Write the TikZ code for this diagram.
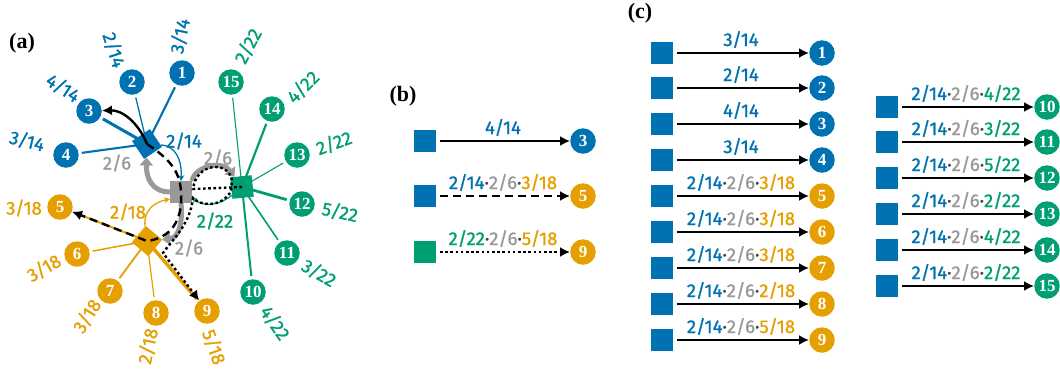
\documentclass[tikz,border=0pt]{standalone}
\usepackage{fontspec}
\setmainfont{Liberation Serif}
\newfontfamily\labfont{Fira Sans}[FakeBold=1.2]
\usetikzlibrary{arrows.meta}
\definecolor{cblue}{RGB}{0,114,178}
\definecolor{corange}{RGB}{230,159,0}
\definecolor{cgreen}{RGB}{0,158,115}
\definecolor{cgray}{RGB}{153,153,153}
\definecolor{cdot}{RGB}{70,70,70}
\pgfdeclarelayer{bg}
\pgfsetlayers{bg,main}
\newcommand{\tlab}[4]{\textcolor{#1}{#2}\textcolor{cdot}{·}\textcolor{cgray}{2/6}\textcolor{cdot}{·}\textcolor{#3}{#4}}
\newcommand{\myrow}[7]{%
  \node[sq, fill=cblue] (s#1) at (#2,#4) {};
  \node[num, fill=#5] (c#1) at (#3,#4) {#6};
  \draw[blk, shorten <=4pt] (s#1) -- (c#1) node[midway, lab, anchor=base, yshift=7pt] {#7};
}
\begin{document}
\begin{tikzpicture}[x=1pt,y=-1pt,
  num/.style={circle, inner sep=0pt, minimum size=25.5pt, text=white, font=\bfseries\fontsize{17}{17}\selectfont},
  sq/.style={inner sep=0pt, minimum size=21.5pt},
  lab/.style={font=\labfont\fontsize{18.5}{18.5}\selectfont, inner sep=1pt},
  panel/.style={font=\bfseries\fontsize{22}{22}\selectfont},
  spoke/.style={shorten >=3pt, shorten <=2pt},
  blk/.style={line width=2.4pt, -{Latex[length=10pt,width=10pt]}},
  dsh/.style={dash pattern=on 8pt off 5pt},
  dtt/.style={dash pattern=on 2.6pt off 2.6pt},
  garr/.style={cgray, line width=5pt, -{Triangle[length=8pt,width=13pt]}},
  tarr/.style={line width=1.3pt, -{Stealth[length=6pt,width=6pt]}}
]
\useasboundingbox (0,0) rectangle (1060,373);

% ---------------- panel (a)
\node[panel] (pa) at (22,43) {(a)};
\node[sq, fill=cblue, rotate=34] (B) at (147,144) {};
\node[sq, fill=cgray] (G) at (181,192) {};
\node[sq, fill=cgreen, rotate=6] (Gr) at (242,187) {};
\node[sq, fill=corange, rotate=50] (O) at (147,241) {};

\node[num, fill=cblue] (a1) at (182,73) {1};
\node[num, fill=cblue] (a2) at (132,82) {2};
\node[num, fill=cblue] (a3) at (89,111) {3};
\node[num, fill=cblue] (a4) at (66,155) {4};
\node[num, fill=corange] (a5) at (60,207) {5};
\node[num, fill=corange] (a6) at (77,254) {6};
\node[num, fill=corange] (a7) at (110,291) {7};
\node[num, fill=corange] (a8) at (156,313) {8};
\node[num, fill=corange] (a9) at (207,311) {9};
\node[num, fill=cgreen] (a10) at (253,292) {10};
\node[num, fill=cgreen] (a11) at (287,253) {11};
\node[num, fill=cgreen] (a12) at (302,204) {12};
\node[num, fill=cgreen] (a13) at (297,155) {13};
\node[num, fill=cgreen] (a14) at (272,109) {14};
\node[num, fill=cgreen] (a15) at (231,82) {15};

\begin{pgfonlayer}{bg}
\draw[spoke, cblue, line width=2.1pt] (B.center) -- (a1);
\draw[spoke, cblue, line width=1.3pt] (B.center) -- (a2);
\draw[spoke, cblue, line width=3.0pt] (B.center) -- (a3);
\draw[spoke, cblue, line width=2.1pt] (B.center) -- (a4);
\draw[spoke, corange, line width=2.0pt] (O.center) -- (a5);
\draw[spoke, corange, line width=1.5pt] (O.center) -- (a6);
\draw[spoke, corange, line width=1.8pt] (O.center) -- (a7);
\draw[spoke, corange, line width=1.2pt] (O.center) -- (a8);
\draw[spoke, corange, line width=3.4pt] (O.center) -- (a9);
\draw[spoke, cgreen, line width=2.0pt] (Gr.center) -- (a10);
\draw[spoke, cgreen, line width=1.6pt] (Gr.center) -- (a11);
\draw[spoke, cgreen, line width=2.8pt] (Gr.center) -- (a12);
\draw[spoke, cgreen, line width=1.1pt] (Gr.center) -- (a13);
\draw[spoke, cgreen, line width=2.2pt] (Gr.center) -- (a14);
\draw[spoke, cgreen, line width=1.1pt] (Gr.center) -- (a15);
\end{pgfonlayer}

% spoke labels
\node[lab, text=cblue, rotate=78] (l1) at (180,36) {3/14};
\node[lab, text=cblue, rotate=-72] (l2) at (114,50) {2/14};
\node[lab, text=cblue, rotate=-33] (l3) at (63,88) {4/14};
\node[lab, text=cblue, rotate=-14] (l4) at (27,141) {3/14};
\node[lab, text=corange] (l5) at (24,208) {3/18};
\node[lab, text=corange, rotate=30] (l6) at (44,268) {3/18};
\node[lab, text=corange, rotate=58] (l7) at (87,316) {3/18};
\node[lab, text=corange, rotate=78] (l8) at (148,346) {2/18};
\node[lab, text=corange, rotate=-70] (l9) at (214,347) {5/18};
\node[lab, text=cgreen, rotate=-55] (l10) at (275,323) {4/22};
\node[lab, text=cgreen, rotate=-30] (l11) at (319,273) {3/22};
\node[lab, text=cgreen, rotate=-12] (l12) at (340,212) {5/22};
\node[lab, text=cgreen, rotate=20] (l13) at (334,143) {2/22};
\node[lab, text=cgreen, rotate=45] (l14) at (303,87) {4/22};
\node[lab, text=cgreen, rotate=62] (l15) at (248,46) {2/22};

% transition labels
\node[lab, text=cblue] (tb) at (184,141) {2/14};
\node[lab, text=cgray] (tg1) at (117,163) {2/6};
\node[lab, text=cgray] (tg2) at (218,158) {2/6};
\node[lab, text=cgreen] (tgr) at (215,221) {2/22};
\node[lab, text=corange] (to) at (128,212) {2/18};
\node[lab, text=cgray] (tg3) at (189,248) {2/6};

% thin transitions
\draw[tarr, cblue] (B) .. controls (176,146) and (182,160) .. (G.north);
\draw[tarr, corange] (O) .. controls (143,210) and (155,202) .. ([yshift=-7pt]G.west);
\draw[tarr, cgreen] (Gr) .. controls (216,208) and (200,205) .. ([yshift=-5pt]G.east);

% thick gray transitions
\draw[garr] (G.west) .. controls (152,192) and (146,178) .. (B);
\draw[garr] (G.north east) .. controls (195,166) and (222,160) .. (Gr);
\draw[garr] (G.south) .. controls (183,225) and (178,238) .. (O);

% black paths
\draw[blk] (B.center) .. controls (138,122) and (122,110) .. (a3);
\draw[blk, dsh] (B.center) .. controls (168,158) and (180,170) .. (G.center) .. controls (183,222) and (170,238) .. (O.center) -- (a5);
\draw[blk, dtt] (Gr.center) -- (193,189) .. controls (196,163) and (228,160) .. (232,180) -- (231,191) .. controls (222,208) and (200,206) .. (193,198) .. controls (190,225) and (172,240) .. (163,253) -- (a9);

% ---------------- panel (b)
\node[panel] (pb) at (403,96) {(b)};
\node[sq, fill=cblue] (b1) at (425,141) {};
\node[sq, fill=cblue] (b2) at (425,196) {};
\node[sq, fill=cgreen] (b3) at (425,252) {};
\node[num, fill=cblue] (e1) at (583,141) {3};
\node[num, fill=corange] (e2) at (583,196) {5};
\node[num, fill=corange] (e3) at (583,252) {9};
\draw[blk, shorten <=4pt] (b1) -- (e1) node[midway, lab, anchor=base, yshift=7pt] {\textcolor{cblue}{4/14}};
\draw[blk, dsh, shorten <=4pt] (b2) -- (e2) node[midway, lab, anchor=base, yshift=7pt] {\tlab{cblue}{2/14}{corange}{3/18}};
\draw[blk, dtt, shorten <=4pt] (b3) -- (e3) node[midway, lab, anchor=base, yshift=7pt] {\tlab{cgreen}{2/22}{corange}{5/18}};

% ---------------- panel (c)
\node[panel] (pc) at (640,13) {(c)};
\myrow{1}{662}{822}{53}{cblue}{1}{\textcolor{cblue}{3/14}}
\myrow{2}{662}{822}{88}{cblue}{2}{\textcolor{cblue}{2/14}}
\myrow{3}{662}{822}{124}{cblue}{3}{\textcolor{cblue}{4/14}}
\myrow{4}{662}{822}{160}{cblue}{4}{\textcolor{cblue}{3/14}}
\myrow{5}{662}{822}{196}{corange}{5}{\tlab{cblue}{2/14}{corange}{3/18}}
\myrow{6}{662}{822}{232}{corange}{6}{\tlab{cblue}{2/14}{corange}{3/18}}
\myrow{7}{662}{822}{268}{corange}{7}{\tlab{cblue}{2/14}{corange}{3/18}}
\myrow{8}{662}{822}{304}{corange}{8}{\tlab{cblue}{2/14}{corange}{2/18}}
\myrow{9}{662}{822}{340}{corange}{9}{\tlab{cblue}{2/14}{corange}{5/18}}
\myrow{10}{887}{1047}{107}{cgreen}{10}{\tlab{cblue}{2/14}{cgreen}{4/22}}
\myrow{11}{887}{1047}{142}{cgreen}{11}{\tlab{cblue}{2/14}{cgreen}{3/22}}
\myrow{12}{887}{1047}{178}{cgreen}{12}{\tlab{cblue}{2/14}{cgreen}{5/22}}
\myrow{13}{887}{1047}{214}{cgreen}{13}{\tlab{cblue}{2/14}{cgreen}{2/22}}
\myrow{14}{887}{1047}{250}{cgreen}{14}{\tlab{cblue}{2/14}{cgreen}{4/22}}
\myrow{15}{887}{1047}{286}{cgreen}{15}{\tlab{cblue}{2/14}{cgreen}{2/22}}
\end{tikzpicture}
\end{document}
